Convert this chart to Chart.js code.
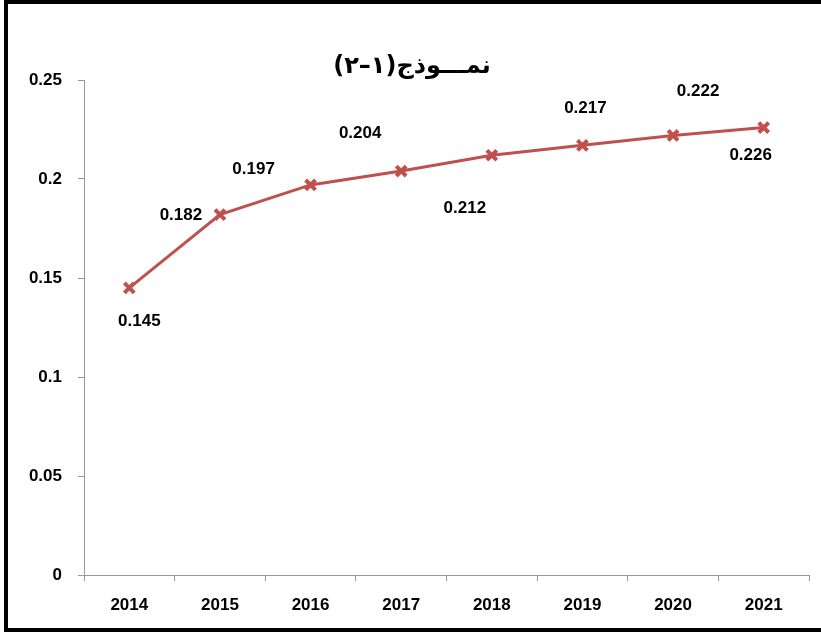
<!DOCTYPE html>
<html>
<head>
<meta charset="utf-8">
<script src="https://cdn.jsdelivr.net/npm/chart.js@4/dist/chart.umd.min.js"></script>
<style>
    body { margin: 0; background: #fff; overflow: hidden; }
    #wrap { position: relative; width: 821px; height: 635px; }
    #frame {
        position: absolute; left: 4px; top: 0; width: 840px; height: 632px;
        box-sizing: border-box; border: 4px solid #000; pointer-events: none;
    }
</style>
</head>
<body>
<div id="wrap">
    <canvas id="chart" width="821" height="635"></canvas>
    <div id="frame"></div>
</div>
<script>
// data
const years = ['2014', '2015', '2016', '2017', '2018', '2019', '2020', '2021'];
const values = [0.145, 0.182, 0.197, 0.204, 0.212, 0.217, 0.222, 0.226];
const yTicks = [0, 0.05, 0.1, 0.15, 0.2, 0.25];
const chartTitle = 'نمـــوذج(١–٢)';

// where each value label sits relative to its point (dx, dy)
const labelShift = [[10, 33], [-39, 1], [-57, -16], [-41, -38], [-27, 53], [3, -37], [25, -44], [-13, 28]];

const fontFam = '"Liberation Sans", Arial, sans-serif';

// value labels + rtl title
const labelsPlugin = {
    id: 'labelsPlugin',
    afterDatasetsDraw(chart) {
        const ctx = chart.ctx;
        const meta = chart.getDatasetMeta(0);
        ctx.save();
        ctx.font = 'bold 17px ' + fontFam;
        ctx.fillStyle = '#000';
        ctx.textAlign = 'center';
        ctx.textBaseline = 'middle';
        meta.data.forEach((pt, i) => {
            const s = labelShift[i];
            ctx.fillText(values[i].toString(), pt.x + s[0], pt.y + s[1]);
        });
        // title
        ctx.direction = 'rtl';
        ctx.font = 'bold 24px "DejaVu Sans", "Noto Sans", sans-serif';
        ctx.fillText(chartTitle, 412, 67);
        ctx.restore();
    }
};

const ctx = document.getElementById('chart').getContext('2d');
new Chart(ctx, {
    type: 'line',
    data: {
        labels: years,
        datasets: [{
            data: values,
            borderColor: '#C0504D',
            borderWidth: 3,
            pointStyle: 'crossRot',
            pointRadius: 7,
            pointBorderWidth: 4,
            pointBorderColor: '#C0504D',
            pointBackgroundColor: '#C0504D',
            tension: 0
        }]
    },
    options: {
        responsive: false,
        animation: false,
        layout: { padding: { top: 80, right: 12, left: 0, bottom: 0 } },
        plugins: {
            legend: { display: false },
            tooltip: { enabled: false },
            title: { display: false }
        },
        scales: {
            x: {
                offset: true,
                grid: { offset: true, drawOnChartArea: false, drawTicks: true, tickLength: 6, color: '#999' },
                border: { color: '#999', width: 1 },
                ticks: { color: '#000', padding: 14, font: { family: fontFam, size: 17, weight: 'bold' } },
                afterFit(scale) { scale.height = 60; }
            },
            y: {
                min: 0,
                max: 0.25,
                afterBuildTicks(scale) { scale.ticks = yTicks.map(v => ({ value: v })); },
                grid: { drawOnChartArea: false, drawTicks: true, tickLength: 6, color: '#999' },
                border: { color: '#999', width: 1 },
                ticks: {
                    color: '#000', padding: 16,
                    font: { family: fontFam, size: 17, weight: 'bold' },
                    callback: v => v.toString()
                },
                afterFit(scale) { scale.width = 84; }
            }
        }
    },
    plugins: [labelsPlugin]
});
</script>
</body>
</html>
